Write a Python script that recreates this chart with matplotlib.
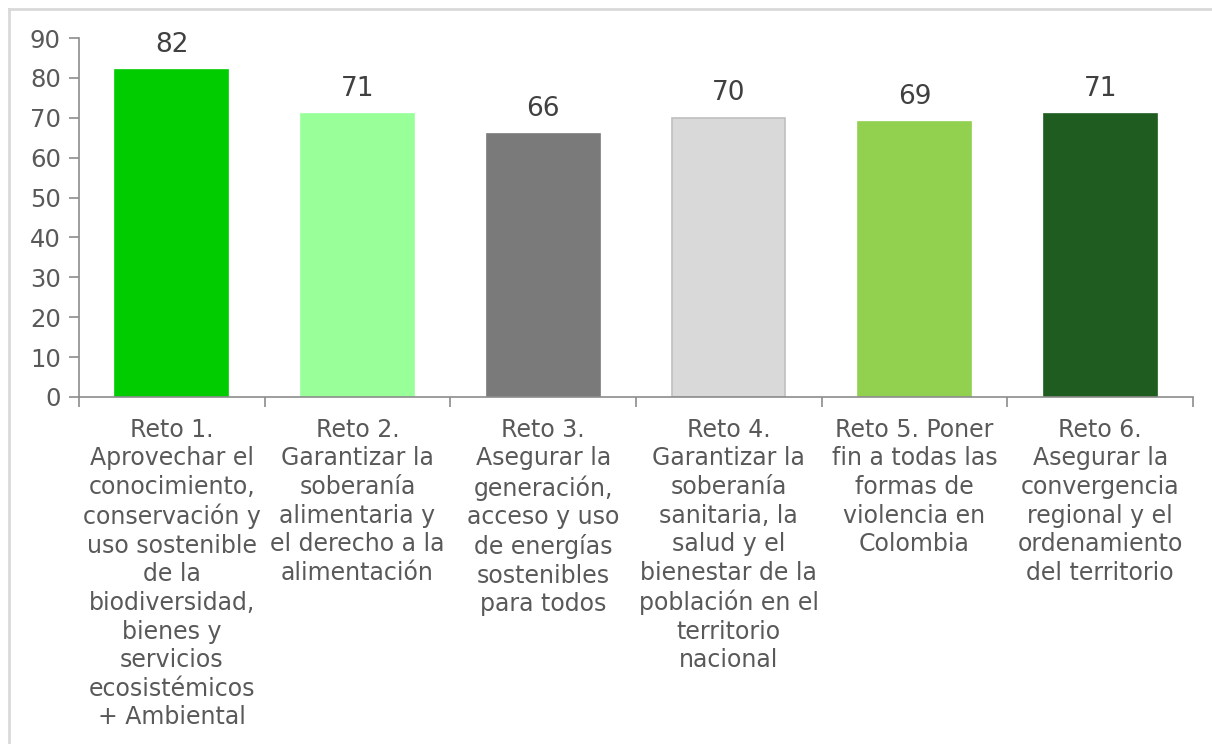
import matplotlib.pyplot as plt
from matplotlib.lines import Line2D
import numpy as np

categories = [
    "Reto 1.\nAprovechar el\nconocimiento,\nconservación y\nuso sostenible\nde la\nbiodiversidad,\nbienes y\nservicios\necosistémicos\n+ Ambiental",
    "Reto 2.\nGarantizar la\nsoberanía\nalimentaria y\nel derecho a la\nalimentación",
    "Reto 3.\nAsegurar la\ngeneración,\nacceso y uso\nde energías\nsostenibles\npara todos",
    "Reto 4.\nGarantizar la\nsoberanía\nsanitaria, la\nsalud y el\nbienestar de la\npoblación en el\nterritorio\nnacional",
    "Reto 5. Poner\nfin a todas las\nformas de\nviolencia en\nColombia",
    "Reto 6.\nAsegurar la\nconvergencia\nregional y el\nordenamiento\ndel territorio",
]
values = [82, 71, 66, 70, 69, 71]
colors = ["#00CC00", "#99FF99", "#7A7A7A", "#D9D9D9", "#92D050", "#1E5C20"]
edges = ["#00CC00", "#99FF99", "#7A7A7A", "#BFBFBF", "#92D050", "#1E5C20"]

fig = plt.figure(figsize=(12.12, 7.44), dpi=100)
ax = fig.add_axes([79 / 1212, 1 - 397 / 744, (1193 - 79) / 1212, (397 - 38) / 744])

x = np.arange(len(values))
bars = ax.bar(x, values, width=0.61, color=colors, edgecolor=edges, linewidth=1.2)

for xi, v in zip(x, values):
    ax.text(xi, v + 3.0, str(v), ha="center", va="bottom", fontsize=19, color="#404040")

ax.set_xlim(-0.5, len(values) - 0.5)
ax.set_ylim(0, 90)
ax.set_yticks(range(0, 91, 10))
ax.tick_params(axis="y", labelsize=17.5, labelcolor="#595959", color="#8C8C8C",
               length=7, width=1.2, pad=6)

ax.set_xticks(x)
ax.set_xticklabels(categories, fontsize=17, color="#595959", linespacing=1.24, va="top")
ax.tick_params(axis="x", length=0, pad=15)
ax.set_xticks(np.arange(-0.5, len(values)), minor=True)
ax.tick_params(axis="x", which="minor", length=7, width=1.2, color="#8C8C8C")

for side in ["top", "right"]:
    ax.spines[side].set_visible(False)
for side in ["left", "bottom"]:
    ax.spines[side].set_color("#8C8C8C")
    ax.spines[side].set_linewidth(1.2)

# outer chart-area border (top and left only visible)
fig.add_artist(Line2D([9 / 1212, 1], [1 - 9 / 744, 1 - 9 / 744], transform=fig.transFigure, color="#D9D9D9", lw=2))
fig.add_artist(Line2D([9 / 1212, 9 / 1212], [0, 1 - 9 / 744], transform=fig.transFigure, color="#D9D9D9", lw=2))

fig.savefig("out.png", dpi=100)
